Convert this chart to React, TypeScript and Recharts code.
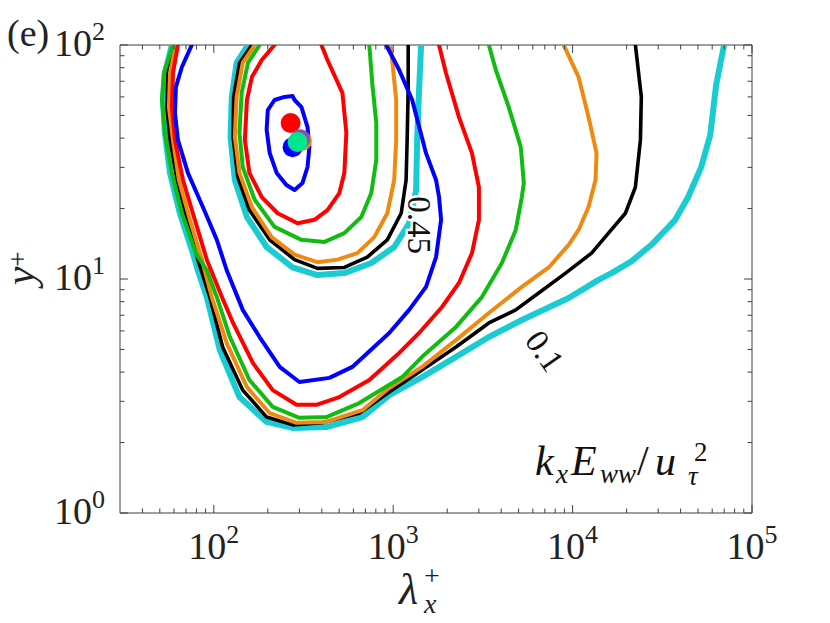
import { ScatterChart, Scatter, XAxis, YAxis } from 'recharts'

// contour colours, drawn in this order
const CYAN = '#1ACCD2'
const BLACK = '#000000'
const ORANGE = '#EE8A10'
const GREEN = '#12BB12'
const RED = '#FF0000'
const BLUE = '#0000FF'
const FRAME = '#404040'
const FONT = '"Liberation Serif", "DejaVu Serif", serif'

const X_TICKS = [
  40, 50, 60, 70, 80, 90, 100, 200, 300, 400, 500, 600, 700, 800, 900, 1000,
  2000, 3000, 4000, 5000, 6000, 7000, 8000, 9000, 10000,
  20000, 30000, 40000, 50000, 60000, 70000, 80000, 90000, 100000,
]
const Y_TICKS = [1, 2, 3, 4, 5, 6, 7, 8, 9, 10, 20, 30, 40, 50, 60, 70, 80, 90, 100]

// level 0.1  [lambda_x+, y+]
const CYAN_01: [number, number][] = [
  [58.4, 100], [53.4, 75.9], [52.1, 58.2], [53.4, 42.1], [57.0, 28.4], [64.7, 19.1], [76.4, 12.9],
  [81.5, 10.9], [91.4, 8.37], [108, 4.97], [139, 3.13], [197, 2.45], [275, 2.31], [424, 2.33],
  [673, 2.57], [950, 3.19], [1449, 3.81], [2239, 4.65], [3414, 5.65], [5212, 6.68], [9504, 8.29],
  [13940, 9.91], [16480, 10.6], [21270, 11.9], [27480, 14.0], [37330, 17.9], [44060, 22.4],
  [52120, 30.1], [58480, 41.2], [63100, 67.4], [69860, 100],
]
const BLACK_01: [number, number][] = [
  [59.2, 100], [55.5, 75.9], [54.8, 54.3], [57.0, 39.3], [62.3, 26.5], [70.8, 17.9], [81.5, 12.1],
  [95.0, 8.37], [112, 5.12], [145, 3.35], [197, 2.57], [275, 2.38], [403, 2.43], [647, 2.67],
  [950, 3.29], [1449, 4.08], [2239, 5.12], [3414, 6.49], [4820, 7.38], [6471, 8.71], [9141, 10.6],
  [12760, 12.9], [15850, 15.7], [19690, 19.1], [22390, 24.7], [23880, 39.3], [24160, 60.0],
  [22390, 100],
]
const ORANGE_01: [number, number][] = [
  [61.5, 100], [57.0, 75.9], [56.2, 54.3], [59.2, 39.3], [63.9, 26.5], [73.6, 17.9], [85.8, 12.1],
  [97.5, 8.37], [118, 5.32], [153, 3.45], [205, 2.67], [289, 2.43], [424, 2.45], [673, 2.75],
  [950, 3.42], [1449, 4.21], [2239, 5.48], [3414, 7.16], [5212, 9.25], [7356, 11.2], [9504, 14.0],
  [10800, 16.2], [12270, 20.3], [13420, 26.5], [13600, 34.5], [12270, 49.2], [10800, 72.9],
  [8913, 100],
]
const GREEN_01: [number, number][] = [
  [59.2, 100], [52.7, 75.9], [51.4, 58.2], [53.4, 42.1], [58.4, 28.4], [66.4, 19.1], [79.4, 12.9],
  [91.4, 10.9], [104, 8.37], [123, 5.65], [158, 3.70], [213, 2.84], [300, 2.55], [424, 2.57],
  [647, 2.95], [1122, 3.81], [1449, 4.65], [2239, 6.24], [3121, 8.37], [4034, 11.7], [4820, 16.2],
  [5212, 22.4], [5346, 25.7], [5142, 36.6], [4406, 54.3], [3733, 78.2], [3414, 100],
]
const RED_01: [number, number][] = [
  [63.1, 100], [59.2, 75.9], [58.4, 54.3], [60.7, 39.3], [67.3, 26.5], [78.4, 17.9], [91.4, 12.1],
  [111, 8.37], [128, 6.49], [165, 4.38], [213, 3.35], [289, 2.90], [373, 2.90], [501, 3.13],
  [736, 3.70], [1080, 4.83], [1394, 5.88], [1871, 7.59], [2326, 9.62], [2748, 12.9], [3005, 17.9],
  [3005, 24.7], [2748, 34.5], [2326, 49.2], [1968, 75.9], [1801, 100],
]
const BLUE_01: [number, number][] = [
  [75.4, 100], [66.4, 80.5], [61.5, 66.2], [60.7, 51.2], [63.1, 39.3], [71.7, 28.4], [86.9, 20.3],
  [104, 14.7], [118, 10.9], [145, 7.38], [180, 5.65], [233, 4.21], [300, 3.63], [441, 3.78],
  [592, 4.21], [950, 5.88], [1227, 7.38], [1524, 9.25], [1733, 12.4], [1849, 17.9], [1801, 22.4],
  [1733, 26.5], [1524, 34.5], [1276, 58.2], [1080, 78.2], [914, 100],
]

// level 0.45
const CYAN_045: [number, number][] = [
  [155, 100], [134, 83.8], [126, 60.0], [124, 40.5], [131, 26.5], [153, 18.4], [197, 13.7],
  [275, 11.2], [378, 10.4], [534, 10.6], [755, 11.7], [1013, 13.7], [1227, 17.3], [1342, 24.0],
  [1360, 39.3], [1394, 64.3], [1431, 100],
]
const BLACK_045: [number, number][] = [
  [163, 100], [139, 83.8], [129, 60.0], [128, 40.5], [136, 27.3], [158, 19.7], [205, 14.7],
  [282, 12.1], [378, 11.1], [534, 11.2], [717, 12.4], [927, 14.7], [1108, 19.1], [1180, 26.5],
  [1196, 39.3], [1212, 64.3], [1212, 100],
]
const ORANGE_045: [number, number][] = [
  [169, 100], [145, 83.8], [134, 60.0], [131, 40.5], [139, 28.4], [163, 20.3], [210, 15.1],
  [282, 12.7], [378, 11.8], [489, 12.1], [631, 12.9], [784, 15.1], [927, 19.1], [1013, 26.5],
  [1039, 39.3], [1039, 58.2], [987, 86.3], [962, 100],
]
const GREEN_045: [number, number][] = [
  [180, 100], [155, 83.8], [143, 62.4], [139, 42.1], [145, 30.1], [169, 21.8], [218, 16.7],
  [308, 14.7], [414, 14.4], [534, 15.7], [664, 18.4], [755, 23.3], [805, 32.3], [805, 46.4],
  [764, 68.8], [736, 100],
]
const RED_045: [number, number][] = [
  [218, 100], [185, 86.3], [163, 72.9], [153, 58.2], [149, 39.3], [158, 28.4], [185, 22.4],
  [227, 19.1], [293, 17.3], [364, 17.9], [430, 19.7], [501, 23.3], [534, 28.4], [548, 42.1],
  [521, 62.4], [430, 86.3], [398, 100],
]
const BLUE_045: [number, number][] = [
  [218, 58.2], [248, 60.0], [275, 60.5], [282, 58.2], [308, 54.3], [333, 44.6], [341, 36.6],
  [333, 30.1], [312, 25.7], [282, 24.0], [254, 25.2], [224, 28.4], [205, 34.5], [197, 43.4],
  [200, 52.7], [218, 58.2],
]

// peak markers
const PEAKS = [
  { x: 268, y: 46.4, color: RED },
  { x: 275, y: 36.6, color: BLUE },
  { x: 310, y: 38.9, color: ORANGE },
  { x: 303, y: 39.6, color: '#8A4FB0' },
  { x: 293, y: 38.5, color: '#00E68A' },
]

const CONTOUR_LABELS = [
  { x: 1394, y: 17.0, text: '0.45', angle: 90 },
  { x: 6985, y: 4.92, text: '0.1', angle: 55 },
]

const toPts = (arr: [number, number][]) => arr.map(([x, y]) => ({ x, y }))

const CONTOURS = [
  { color: CYAN, width: 6, data: CYAN_01 },
  { color: CYAN, width: 6, data: CYAN_045 },
  { color: BLACK, width: 3.6, data: BLACK_01 },
  { color: BLACK, width: 3.6, data: BLACK_045 },
  { color: ORANGE, width: 4, data: ORANGE_01 },
  { color: ORANGE, width: 4, data: ORANGE_045 },
  { color: GREEN, width: 4, data: GREEN_01 },
  { color: GREEN, width: 4, data: GREEN_045 },
  { color: RED, width: 4, data: RED_01 },
  { color: RED, width: 4, data: RED_045 },
  { color: BLUE, width: 4, data: BLUE_01 },
  { color: BLUE, width: 4, data: BLUE_045 },
]

const isMajor = (v: number) => Math.abs(Math.log10(v) - Math.round(Math.log10(v))) < 1e-9

const NoDot = () => <g />

function XTick(props: any) {
  const { x, y, payload, side } = props
  const v = payload.value
  const major = isMajor(v)
  const len = major ? 8 : 4.5
  const dir = side === 'bottom' ? -1 : 1
  return (
    <g>
      <line x1={x} x2={x} y1={y} y2={y + dir * len} stroke={FRAME} strokeWidth={1} />
      {side === 'bottom' && major && (
        <text x={x} y={y + 46} textAnchor="middle" fontFamily={FONT} fontSize={38} fill="#222">
          10<tspan dy={-16} fontSize={26}>{Math.round(Math.log10(v))}</tspan>
        </text>
      )}
    </g>
  )
}

function YTick(props: any) {
  const { x, y, payload, side } = props
  const v = payload.value
  const major = isMajor(v)
  const len = major ? 8 : 4.5
  const dir = side === 'left' ? 1 : -1
  return (
    <g>
      <line x1={x} x2={x + dir * len} y1={y} y2={y} stroke={FRAME} strokeWidth={1} />
      {side === 'left' && major && (
        <text x={x - 15} y={y + 11} textAnchor="end" fontFamily={FONT} fontSize={38} fill="#222">
          10<tspan dy={-16} fontSize={26}>{Math.round(Math.log10(v))}</tspan>
        </text>
      )}
    </g>
  )
}

export default function App() {
  return (
    <div style={{ position: 'absolute', left: 0, top: 0, width: 830, height: 623, background: '#fff' }}>
      <ScatterChart width={830} height={623} margin={{ top: 44, right: 77, bottom: 109, left: 119 }}>
        <XAxis
          xAxisId="b" dataKey="x" type="number" scale="log" domain={[30, 100000]} allowDataOverflow
          ticks={X_TICKS} interval={0} height={1} tickSize={0} tickMargin={0} tickLine={false}
          axisLine={{ stroke: FRAME }} tick={<XTick side="bottom" />}
        />
        <XAxis
          xAxisId="t" orientation="top" dataKey="x" type="number" scale="log" domain={[30, 100000]} allowDataOverflow
          ticks={X_TICKS} interval={0} height={1} tickSize={0} tickMargin={0} tickLine={false}
          axisLine={{ stroke: FRAME }} tick={<XTick side="top" />}
        />
        <YAxis
          yAxisId="l" dataKey="y" type="number" scale="log" domain={[1, 100]} allowDataOverflow
          ticks={Y_TICKS} interval={0} width={1} tickSize={0} tickMargin={0} tickLine={false}
          axisLine={{ stroke: FRAME }} tick={<YTick side="left" />}
        />
        <YAxis
          yAxisId="r" orientation="right" dataKey="y" type="number" scale="log" domain={[1, 100]} allowDataOverflow
          ticks={Y_TICKS} interval={0} width={1} tickSize={0} tickMargin={0} tickLine={false}
          axisLine={{ stroke: FRAME }} tick={<YTick side="right" />}
        />
        {CONTOURS.map((c, i) => (
          <Scatter
            key={`c-${i}`}
            xAxisId="b"
            yAxisId="l"
            data={toPts(c.data)}
            line={{ stroke: c.color, strokeWidth: c.width, strokeLinejoin: 'round', strokeLinecap: 'round' }}
            shape={NoDot}
            isAnimationActive={false}
          />
        ))}
        {CONTOUR_LABELS.map((l, i) => (
          <Scatter
            key={`l-${i}`}
            xAxisId="b"
            yAxisId="l"
            data={[l]}
            isAnimationActive={false}
            shape={(p: any) => (
              <text
                x={p.cx} y={p.cy} transform={`rotate(${l.angle}, ${p.cx}, ${p.cy})`}
                textAnchor="middle" dominantBaseline="central" fontFamily={FONT} fontSize={33}
                fill="#111" stroke="#fff" strokeWidth={5} paintOrder="stroke"
              >
                {l.text}
              </text>
            )}
          />
        ))}
        {PEAKS.map((d, i) => (
          <Scatter
            key={`p-${i}`}
            xAxisId="b"
            yAxisId="l"
            data={[d]}
            isAnimationActive={false}
            shape={(p: any) => <circle cx={p.cx} cy={p.cy} r={10} fill={d.color} />}
          />
        ))}
      </ScatterChart>
      <svg width={830} height={623} style={{ position: 'absolute', left: 0, top: 0, pointerEvents: 'none' }}>
        <text x={7} y={46} fontFamily={FONT} fontSize={38} fill="#222">(e)</text>
        <g transform="translate(34, 272) rotate(-90)" fontFamily={FONT} fill="#222">
          <text x={-4} y={0} textAnchor="middle" fontSize={42} fontStyle="italic">y</text>
          <text x={13} y={-7} textAnchor="middle" fontSize={27}>+</text>
        </g>
        <g fontFamily={FONT} fill="#222">
          <text x={399} y={604} fontSize={44} fontStyle="italic">λ</text>
          <text x={424} y={613} fontSize={28} fontStyle="italic">x</text>
          <text x={424} y={585} fontSize={28}>+</text>
        </g>
        <g fontFamily={FONT} fill="#111" fontStyle="italic">
          <text x={535} y={475} fontSize={42}>k</text>
          <text x={556} y={483} fontSize={27}>x</text>
          <text x={571} y={475} fontSize={42}>E</text>
          <text x={600} y={483} fontSize={27}>ww</text>
          <text x={637} y={475} fontSize={42} fontStyle="normal">/</text>
          <text x={655} y={475} fontSize={42}>u</text>
          <text x={694} y={461} fontSize={27} fontStyle="normal">2</text>
          <text x={688} y={485} fontSize={27}>τ</text>
        </g>
      </svg>
    </div>
  )
}
